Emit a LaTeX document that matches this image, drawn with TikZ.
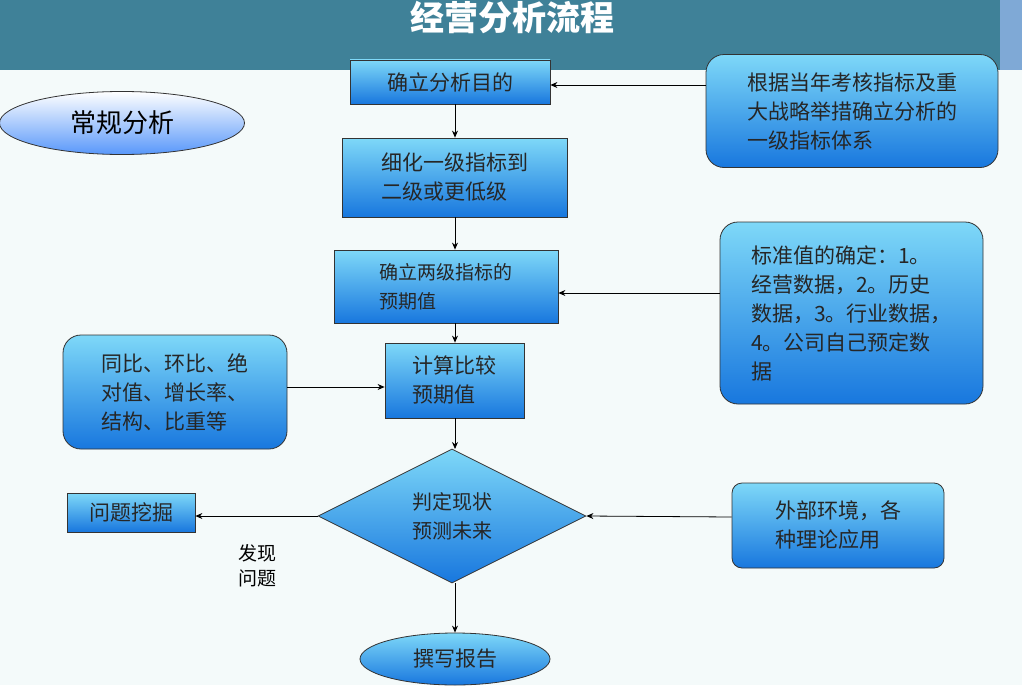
\documentclass[tikz,border=0pt]{standalone}
\usepackage{fontspec}
\setmainfont{Noto Sans CJK SC}
\usetikzlibrary{shapes.geometric,arrows.meta}
\definecolor{bg}{HTML}{F4FAFA}
\definecolor{band}{HTML}{3F8198}
\definecolor{bandR}{HTML}{7FA9D6}
\definecolor{topc}{HTML}{7ED8F8}
\definecolor{botc}{HTML}{1877DE}
\begin{document}
\begin{tikzpicture}[x=1pt,y=-1pt,
  box/.style={draw=black!80,line width=0.8pt,top color=topc,bottom color=botc,inner sep=0pt,align=left,font=\fontsize{21}{29}\selectfont,text=black!85},
  rbox/.style={box,rounded corners=18pt},
  arr/.style={-{Stealth[length=7pt,width=6pt]},line width=0.8pt},
  ln/.style={line width=0.8pt}]
\useasboundingbox (0,0) rectangle (1022,685);
\fill[bg] (0,0) rectangle (1022,685);
\fill[band] (0,0) rectangle (1000,70);
\fill[bandR] (1000,0) rectangle (1022,70);
\node[text=white,font=\fontsize{34}{36}\selectfont\bfseries] (title) at (512,18) {经营分析流程};

\node[box,minimum width=200pt,minimum height=44pt,align=center] (b1) at (450,82) {确立分析目的};
\node[rbox,minimum width=292pt,minimum height=113pt] (r1) at (852,111) {根据当年考核指标及重\\大战略举措确立分析的\\一级指标体系};
\node[draw=black!80,line width=0.8pt,fill=blue!8,top color=white,bottom color=topc!70!blue,ellipse,minimum width=245pt,minimum height=63pt,font=\fontsize{26}{28}\selectfont] (e1) at (122,123) {常规分析};
\node[box,minimum width=225pt,minimum height=79pt] (b2) at (454.5,177.5) {细化一级指标到\\二级或更低级};
\node[box,minimum width=224pt,minimum height=73pt,font=\fontsize{19}{29}\selectfont] (b3) at (446,286.5) {确立两级指标的\\预期值};
\node[rbox,minimum width=263pt,minimum height=182pt] (r2) at (851.5,313) {标准值的确定：1。\\经营数据，2。历史\\数据，3。行业数据，\\4。公司自己预定数\\据};
\node[box,minimum width=139pt,minimum height=75pt] (b4) at (454.5,380.5) {计算比较\\预期值};
\node[rbox,minimum width=224pt,minimum height=114pt] (r3) at (175,392) {同比、环比、绝\\对值、增长率、\\结构、比重等};
\node[box,diamond,minimum width=268pt,minimum height=134pt,aspect=2,inner sep=0pt,align=center,font=\fontsize{20}{29}\selectfont] (d) at (452,516) {判定现状\\预测未来};
\node[box,minimum width=128pt,minimum height=39pt,align=center] (q) at (131,512.5) {问题挖掘};
\node[rbox,rounded corners=10pt,minimum width=212pt,minimum height=85pt] (r4) at (838,525.5) {外部环境，各\\种理论应用};
\node[box,ellipse,minimum width=190pt,minimum height=52pt,align=center] (e2) at (455,659) {撰写报告};
\node[font=\fontsize{19}{25}\selectfont,align=center] (t) at (257,566) {发现\\问题};

\draw[arr] (r1.west|-0,85) -- (b1.east|-0,85);
\draw[arr] (b1.south-|455,0) -- (b2.north-|455,0);
\draw[arr] (b2.south-|455,0) -- (b3.north-|455,0);
\draw[arr] (r2.west|-0,293) -- (b3.east|-0,293);
\draw[arr] (b3.south-|455,0) -- (b4.north-|455,0);
\draw[arr] (r3.east|-0,387) -- (b4.west|-0,387);
\draw[arr] (b4.south-|455,0) -- (455,449);
\draw[arr] (r4.west|-0,517) -- (d.east);
\draw[arr] (d.west) -- (q.east|-0,516);
\draw[arr] (455,583) -- (e2.north);
\end{tikzpicture}
\end{document}
